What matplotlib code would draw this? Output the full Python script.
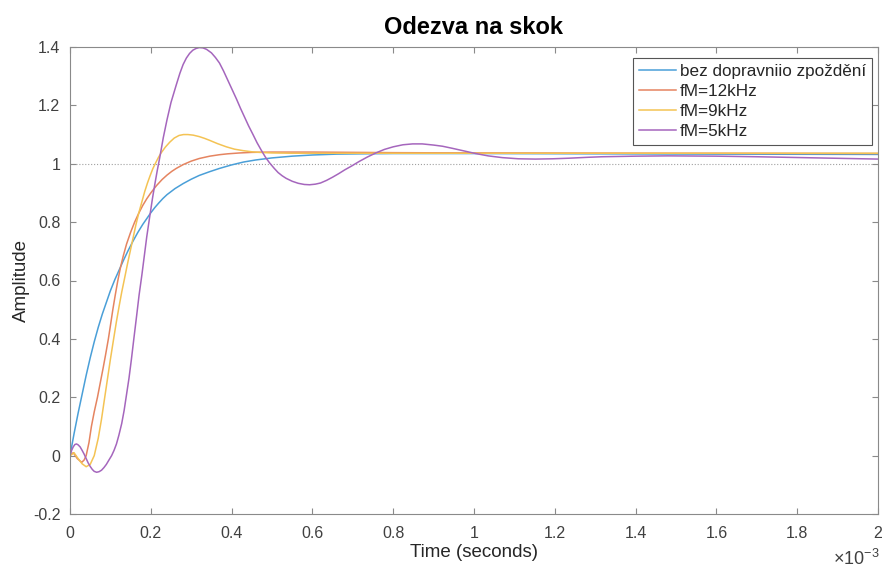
import matplotlib
matplotlib.use("Agg")
import matplotlib.pyplot as plt
from matplotlib.ticker import FuncFormatter

# time axis in milliseconds (drawn with a x10^-3 multiplier)
t_blue = [0, 0.01, 0.02, 0.03, 0.04, 0.05, 0.06, 0.07, 0.08, 0.09, 0.1, 0.111,
          0.122, 0.132, 0.144, 0.156, 0.168, 0.18, 0.19, 0.2, 0.21, 0.22, 0.23,
          0.24, 0.26, 0.28, 0.3, 0.32, 0.346, 0.37, 0.4, 0.43, 0.46, 0.5, 0.55,
          0.6, 0.66, 0.72, 0.8, 0.9, 1.0, 1.3, 1.6, 2.0]
v_blue = [0, 0.075, 0.145, 0.21, 0.275, 0.335, 0.39, 0.44, 0.485, 0.525, 0.565, 0.603,
          0.637, 0.668, 0.703, 0.735, 0.765, 0.792, 0.812, 0.832, 0.85, 0.866, 0.881,
          0.894, 0.915, 0.932, 0.947, 0.96, 0.973, 0.984, 0.996, 1.006, 1.013, 1.02, 1.026,
          1.03, 1.033, 1.034, 1.035, 1.035, 1.035, 1.034, 1.033, 1.032]

t_12k = [0, 0.008, 0.018, 0.029, 0.035, 0.04, 0.047, 0.053, 0.06, 0.068, 0.075,
         0.082, 0.088, 0.095, 0.1, 0.106, 0.112, 0.118, 0.125, 0.132, 0.14, 0.15,
         0.16, 0.17, 0.18, 0.19, 0.2, 0.214, 0.228, 0.24, 0.252, 0.263, 0.28, 0.3,
         0.32, 0.346, 0.37, 0.39, 0.42, 0.45, 0.5, 0.6, 0.8, 1.0, 1.5, 2.0]
v_12k = [0, 0.01, -0.01, -0.023, -0.015, 0.0, 0.045, 0.1, 0.15, 0.2, 0.25,
         0.3, 0.345, 0.4, 0.445, 0.5, 0.55, 0.597, 0.645, 0.685, 0.725, 0.765,
         0.8, 0.83, 0.857, 0.88, 0.9, 0.925, 0.946, 0.961, 0.974, 0.984, 0.997, 1.009,
         1.018, 1.026, 1.031, 1.034, 1.037, 1.039, 1.04, 1.04, 1.038, 1.037, 1.036, 1.035]

t_9k = [0, 0.01, 0.02, 0.03, 0.04, 0.05, 0.06, 0.07, 0.078, 0.086, 0.093, 0.1,
        0.108, 0.115, 0.122, 0.128, 0.135, 0.142, 0.149, 0.156, 0.163, 0.17,
        0.178, 0.185, 0.192, 0.198, 0.205, 0.212, 0.219, 0.226, 0.236, 0.247,
        0.258, 0.27, 0.281, 0.292, 0.305, 0.32, 0.333, 0.346, 0.365, 0.387,
        0.407, 0.428, 0.45, 0.469, 0.5, 0.55, 0.6, 0.8, 1.0, 1.5, 2.0]
v_9k = [0, 0.01, -0.01, -0.028, -0.038, -0.03, 0.0, 0.06, 0.125, 0.2, 0.265, 0.33,
        0.4, 0.46, 0.515, 0.56, 0.607, 0.655, 0.70, 0.745, 0.79, 0.83,
        0.87, 0.905, 0.935, 0.958, 0.983, 1.003, 1.022, 1.038, 1.057, 1.074,
        1.088, 1.097, 1.1, 1.1, 1.098, 1.093, 1.087, 1.08, 1.069, 1.058,
        1.05, 1.045, 1.041, 1.039, 1.037, 1.036, 1.036, 1.036, 1.036, 1.036, 1.036]

t_5k = [0, 0.004, 0.008, 0.012, 0.016, 0.02, 0.025, 0.03, 0.035, 0.04, 0.045,
        0.05, 0.055, 0.06, 0.066, 0.072, 0.078, 0.084, 0.09, 0.096, 0.103,
        0.109, 0.115, 0.121, 0.128, 0.134, 0.14, 0.146, 0.152, 0.158, 0.165,
        0.171, 0.178, 0.184, 0.19, 0.198, 0.204, 0.21, 0.216, 0.222, 0.231,
        0.24, 0.25, 0.263, 0.272, 0.28, 0.288, 0.296, 0.304, 0.312, 0.32, 0.329,
        0.338, 0.35, 0.36, 0.37, 0.38, 0.39, 0.4, 0.412, 0.422, 0.432, 0.442,
        0.453, 0.463, 0.474, 0.484, 0.494, 0.505, 0.515, 0.525, 0.535, 0.55,
        0.565, 0.58, 0.593, 0.607, 0.62, 0.635, 0.65, 0.665, 0.68, 0.698, 0.716,
        0.736, 0.757, 0.778, 0.8, 0.824, 0.848, 0.872, 0.9, 0.922, 0.946, 0.975,
        1.004, 1.035, 1.07, 1.11, 1.152, 1.195, 1.235, 1.28, 1.317, 1.4, 1.48,
        1.6, 1.7, 1.85, 2.0]
v_5k = [0, 0.018, 0.03, 0.038, 0.04, 0.037, 0.03, 0.018, 0.005, -0.01, -0.025,
        -0.037, -0.047, -0.054, -0.057, -0.055, -0.05, -0.041, -0.03, -0.016, 0.0,
        0.018, 0.04, 0.07, 0.11, 0.155, 0.21, 0.265, 0.33, 0.4, 0.48,
        0.55, 0.62, 0.685, 0.75, 0.825, 0.88, 0.93, 0.977, 1.02, 1.09,
        1.15, 1.21, 1.27, 1.31, 1.34, 1.362, 1.378, 1.389, 1.395, 1.398, 1.397,
        1.392, 1.38, 1.364, 1.345, 1.318, 1.288, 1.258, 1.222, 1.19, 1.16, 1.13,
        1.1, 1.072, 1.045, 1.022, 1.003, 0.985, 0.97, 0.959, 0.95, 0.94,
        0.933, 0.929, 0.928, 0.93, 0.934, 0.943, 0.954, 0.966, 0.979, 0.993, 1.008,
        1.023, 1.037, 1.049, 1.058, 1.065, 1.068, 1.068, 1.064, 1.06, 1.053, 1.044,
        1.035, 1.027, 1.021, 1.017, 1.016, 1.017, 1.019, 1.022, 1.024, 1.026, 1.027,
        1.026, 1.024, 1.02, 1.016]

series = [
    (t_blue, v_blue, "#4a9fd8", "bez dopravniio zpoždění"),
    (t_12k, v_12k, "#e58460", "fM=12kHz"),
    (t_9k, v_9k, "#f4c354", "fM=9kHz"),
    (t_5k, v_5k, "#a566bd", "fM=5kHz"),
]

plt.rcParams["font.family"] = ["Liberation Sans", "DejaVu Sans"]
plt.rcParams["mathtext.fontset"] = "custom"
plt.rcParams["mathtext.rm"] = "Liberation Sans"

fig = plt.figure(figsize=(8.83, 5.69), dpi=100)
ax = fig.add_axes([70 / 883, 55 / 569, 808 / 883, 467 / 569])

for t, v, c, lab in series:
    ax.plot(t, v, color=c, linewidth=1.1, label=lab)

# steady-state reference
ax.axhline(1.0, color="#a0a0a0", linestyle=":", linewidth=0.8, zorder=0)

ax.set_xlim(0, 2)
ax.set_ylim(-0.2, 1.4)
ax.set_xticks([0, 0.2, 0.4, 0.6, 0.8, 1.0, 1.2, 1.4, 1.6, 1.8, 2.0])
ax.set_yticks([-0.2, 0, 0.2, 0.4, 0.6, 0.8, 1.0, 1.2, 1.4])
fmt = FuncFormatter(lambda x, pos: "%g" % round(x, 2))
ax.xaxis.set_major_formatter(fmt)
ax.yaxis.set_major_formatter(fmt)

for s in ax.spines.values():
    s.set_color("#8a8a8a")
    s.set_linewidth(0.8)
ax.tick_params(direction="in", length=4.5, width=0.8, color="#8a8a8a",
               labelcolor="#404040", labelsize=11.5, top=True, right=True)
ax.tick_params(axis="x", pad=9)
ax.tick_params(axis="y", pad=7)

ax.set_title("Odezva na skok", fontsize=17, fontweight="bold", pad=9)
ax.set_xlabel("Time (seconds)", fontsize=13.5, color="#262626", labelpad=2)
ax.set_ylabel("Amplitude", fontsize=13.5, color="#262626", labelpad=2)

fig.text(880 / 883, 1 - 565 / 569, r"$\times10^{-3}$", ha="right", va="baseline",
         fontsize=13, color="#404040")

leg = ax.legend(loc="upper right", bbox_to_anchor=(0.9926, 0.9764),
                borderaxespad=0, fancybox=False, framealpha=1,
                edgecolor="#555555", fontsize=12.3, handlelength=2.2,
                handletextpad=0.2, labelspacing=0.3, borderpad=0.35)
leg.get_frame().set_linewidth(0.8)
for txt in leg.get_texts():
    txt.set_color("#262626")

fig.savefig("out.png", dpi=100)
